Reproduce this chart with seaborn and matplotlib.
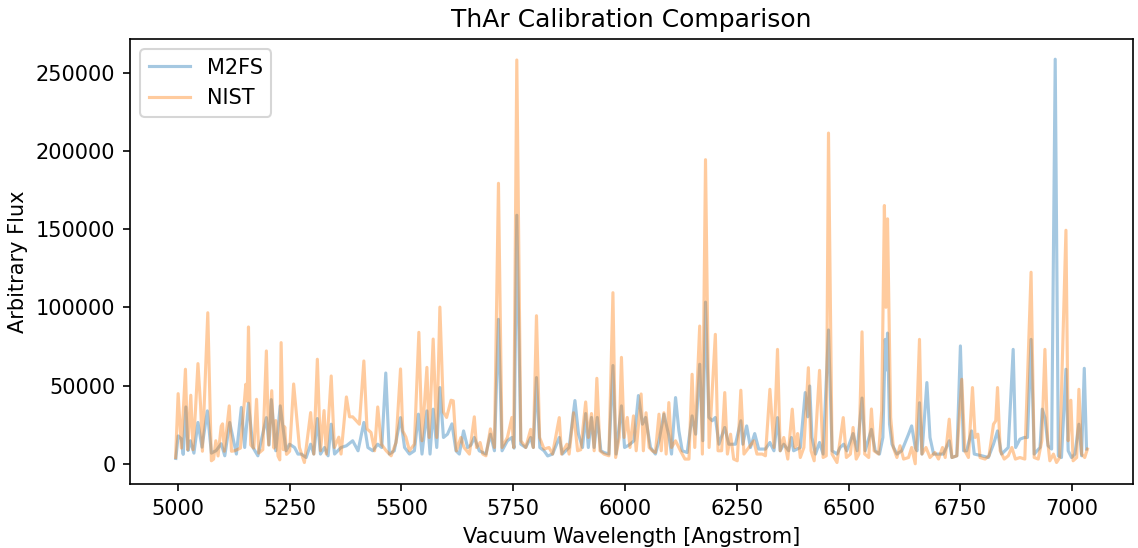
import matplotlib
matplotlib.use("Agg")
import matplotlib.pyplot as plt
import seaborn as sns
import pandas as pd

# ---- data ----
nist_wl = [4995, 5000.7, 5008, 5017, 5022, 5029, 5034, 5039, 5045, 5051, 5055, 5067, 5075, 5080, 5085, 5090,
           5097, 5100, 5104, 5115, 5120, 5127, 5140, 5146, 5152, 5155, 5158, 5163, 5170, 5176, 5181, 5190,
           5198, 5203, 5210, 5215, 5219, 5224, 5228, 5231, 5236, 5239, 5243, 5250, 5259, 5268, 5272, 5283,
           5297, 5304, 5312, 5319, 5327, 5332, 5343, 5350, 5360, 5365, 5377, 5384, 5391, 5399, 5406, 5416,
           5423, 5432, 5440, 5447, 5455, 5466, 5477, 5488, 5498, 5503, 5510, 5518, 5529, 5539, 5546, 5557,
           5562, 5571, 5579, 5586, 5594, 5601, 5611, 5616, 5623, 5633, 5640, 5652, 5663, 5668, 5676, 5682,
           5689, 5699, 5708, 5717, 5725, 5737, 5747, 5751, 5758, 5767, 5778, 5789, 5795, 5802, 5809, 5819,
           5830, 5838, 5853, 5858, 5870, 5875, 5885, 5894, 5901, 5912, 5918, 5925, 5931, 5937, 5944, 5953,
           5964, 5973, 5979, 5987, 5992, 5998, 6005, 6011, 6019, 6025, 6036, 6041, 6047, 6054, 6061, 6068,
           6076, 6081, 6087, 6092, 6098, 6104, 6113, 6124, 6134, 6143, 6150, 6156, 6161, 6167, 6173, 6180,
           6188, 6195, 6202, 6208, 6216, 6223, 6229, 6236, 6243, 6251, 6259, 6266, 6277, 6288, 6295, 6307,
           6314, 6324, 6333, 6341, 6347, 6355, 6364, 6374, 6380, 6383, 6386, 6392, 6400, 6410, 6416, 6423,
           6435, 6443, 6450, 6455, 6463, 6474, 6488, 6495, 6504, 6510, 6517, 6523, 6530, 6536, 6545, 6551,
           6557, 6567, 6574, 6580, 6583.5, 6587, 6594, 6600, 6608, 6615, 6623, 6634, 6641, 6649, 6658.5, 6664,
           6673, 6682, 6693, 6701, 6710, 6716, 6725, 6731, 6742, 6753, 6760, 6768, 6777, 6783, 6789, 6794,
           6805, 6814, 6824, 6829, 6833, 6839, 6848, 6857, 6865, 6873, 6883, 6894, 6908, 6915, 6924, 6932,
           6939, 6945, 6950, 6958, 6965, 6972, 6986, 6991, 6997, 7002, 7010, 7015, 7021, 7028, 7034]
nist_flux = [4000, 44800, 10000, 60400, 9000, 43800, 9000, 31900, 64000, 36700, 8000, 96500, 1900, 3000, 14700, 5000,
             24000, 25500, 8000, 37000, 8000, 8300, 10000, 30000, 50800, 40000, 87400, 12000, 10000, 41200, 6800, 9000,
             72100, 12000, 46700, 10000, 27600, 5000, 2500, 77400, 9000, 23600, 6000, 8000, 51000, 23000, 10400, 800,
             32700, 6200, 66800, 8300, 34000, 6200, 56100, 10400, 17000, 6200, 42700, 30000, 30000, 27500, 25300, 65700,
             22300, 20000, 8300, 36300, 12500, 8300, 5100, 13600, 60600, 21000, 17000, 8300, 12500, 84000, 14700, 61600,
             16800, 79700, 16800, 100100, 33000, 29600, 40600, 40200, 8300, 16800, 10400, 6200, 30000, 10400, 13600, 6200,
             5100, 22300, 10400, 179200, 10400, 16800, 29600, 10400, 258000, 14700, 10400, 22000, 10400, 94600, 16800, 9400,
             10400, 6200, 29500, 6200, 12500, 6200, 32600, 8300, 9000, 39500, 16800, 32100, 8300, 54600, 8300, 6200,
             5100, 109300, 4000, 16800, 68000, 16800, 29600, 10400, 30600, 8300, 44600, 8300, 32600, 10400, 8300, 7200,
             31700, 8300, 32600, 6200, 39100, 10400, 14700, 8300, 3000, 3000, 57200, 10400, 47700, 88000, 6200, 194300,
             10400, 46600, 82700, 8300, 8300, 45500, 6200, 18900, 3000, 1900, 47000, 6200, 10400, 14700, 6200, 6200,
             5100, 47600, 10400, 73100, 8300, 16800, 3000, 34900, 10400, 12500, 19300, 4000, 10400, 61400, 8300, 1900,
             59700, 4000, 5100, 211300, 6200, 800, 29500, 4000, 6200, 23200, 3000, 6200, 84300, 6200, 4000, 35000,
             8300, 6200, 33800, 165000, 100000, 156500, 29600, 10400, 4000, 11500, 3000, 4000, 10400, 0, 79500, 6200,
             10400, 4000, 7200, 3000, 10400, 4000, 28500, 4000, 5100, 54000, 8300, 4000, 48700, 16800, 18900, 4000,
             3000, 5100, 25300, 27400, 48700, 8300, 3000, 5100, 10400, 3000, 4000, 3000, 122400, 4000, 3000, 14700,
             73100, 14700, 1900, 6200, 800, 4000, 149200, 14700, 40600, 1900, 4000, 47600, 6200, 4000, 9400]

m2fs_wl = [4995.5, 5000.7, 5008, 5012, 5018, 5023, 5028, 5036, 5045, 5054, 5066, 5075, 5086, 5097, 5105, 5116,
           5131, 5142, 5149.5, 5158, 5168, 5179, 5198, 5204, 5209, 5219, 5229, 5242, 5250, 5261, 5268.6, 5276,
           5287, 5297, 5304, 5312, 5319, 5328, 5336, 5343, 5350.5, 5365, 5377, 5391, 5403, 5416, 5425, 5436,
           5447, 5456, 5465, 5473, 5484, 5498, 5507, 5518, 5529, 5538, 5546, 5557, 5564, 5571, 5579, 5586,
           5594, 5603, 5613, 5622, 5629.5, 5639, 5648, 5655.5, 5663, 5674, 5689, 5699, 5708, 5717, 5725, 5737,
           5747, 5752, 5758, 5767, 5778, 5789, 5795, 5802, 5809.5, 5819, 5827, 5838, 5853, 5860, 5875, 5888,
           5896, 5905, 5912, 5918, 5925, 5931, 5938, 5946, 5953, 5964, 5973, 5980, 5992, 5999, 6009, 6020,
           6030, 6039, 6046, 6057, 6068, 6076, 6087, 6098, 6104, 6113, 6120.5, 6128, 6139, 6150, 6158, 6167,
           6174, 6180, 6187.5, 6195, 6202, 6210, 6223, 6232, 6247, 6259, 6263.4, 6272, 6280.5, 6290, 6299, 6314,
           6324, 6333, 6341, 6347, 6355, 6366, 6372, 6377, 6392, 6403, 6408.5, 6413, 6418, 6426, 6435, 6443,
           6455, 6463, 6474, 6481, 6489, 6496, 6510, 6519, 6530, 6537, 6551, 6559.5, 6569, 6576.6, 6582, 6584.8,
           6587, 6591.5, 6597, 6608, 6619, 6634, 6641, 6649, 6653, 6658.5, 6664, 6675, 6682, 6690, 6701, 6712,
           6725, 6731, 6742, 6750, 6757, 6764, 6775, 6781, 6798, 6812.5, 6824, 6833, 6842, 6857, 6868, 6873.5,
           6883, 6893, 6900, 6908, 6915, 6928, 6933, 6939, 6946, 6954, 6962, 6969, 6976, 6986, 6991, 6998.5,
           7006, 7015, 7021, 7027, 7032]
m2fs_flux = [3400, 17800, 15900, 6000, 36300, 8500, 14700, 6800, 26400, 10600, 33800, 6800, 8500, 12800, 5100, 26400,
             6200, 36000, 10400, 38700, 10400, 5100, 29500, 12000, 41000, 8300, 37000, 8300, 12500, 10400, 6200, 6200,
             4000, 12500, 6200, 28900, 6200, 10400, 5100, 25300, 6200, 10400, 11500, 14700, 8300, 26400, 10400, 8300,
             12500, 10400, 58000, 6200, 8300, 29500, 10400, 6200, 8300, 31700, 6200, 33800, 6200, 34900, 10400, 48700,
             16800, 18900, 25500, 8300, 6200, 21000, 10400, 12000, 16800, 8300, 6200, 18900, 8300, 92300, 8300, 14700,
             16800, 10000, 158800, 12500, 10400, 16800, 10400, 55100, 10400, 8300, 5000, 6200, 16800, 6200, 10400, 40400,
             18900, 10400, 32100, 10400, 29600, 10400, 29600, 8300, 7200, 6200, 62800, 6200, 37000, 10400, 12000, 14700,
             43600, 25300, 29600, 10400, 6200, 14700, 31700, 18000, 6200, 42300, 21000, 8300, 7200, 30600, 18900, 63600,
             14700, 103300, 29600, 27500, 29600, 12500, 23200, 12500, 12500, 27500, 12500, 24200, 10400, 19300, 9400, 9400,
             13600, 8300, 29500, 8300, 12500, 8300, 16800, 8300, 10400, 45500, 30000, 49700, 16800, 6200, 13600, 6200,
             85500, 8300, 6200, 10400, 12500, 8300, 19300, 8300, 42000, 8300, 22000, 8300, 6200, 16800, 79500, 60000,
             83500, 25300, 12500, 6200, 8300, 18900, 24200, 10400, 8300, 39000, 6200, 51900, 16800, 6200, 6200, 6200,
             14700, 4000, 5100, 75300, 8300, 8300, 21000, 6200, 5100, 4000, 12500, 21000, 6200, 10400, 73100, 10400,
             15700, 16800, 16800, 79500, 6200, 10400, 34900, 29500, 11500, 9400, 258500, 5100, 4000, 60400, 8300, 4000,
             6200, 25300, 5100, 61000, 9400]

series_names = ["M2FS", "NIST"]
title_text = "ThAr Calibration Comparison"
x_label = "Vacuum Wavelength [Angstrom]"
y_label = "Arbitrary Flux"

# ---- build long-form table ----
df = pd.concat([
    pd.DataFrame({"wl": m2fs_wl, "flux": m2fs_flux, "src": series_names[0]}),
    pd.DataFrame({"wl": nist_wl, "flux": nist_flux, "src": series_names[1]}),
], ignore_index=True)

plt.rcParams["font.family"] = ["DejaVu Sans"]
DPI = 150
fig = plt.figure(figsize=(1138 / DPI, 548 / DPI), dpi=DPI)
ax = fig.add_axes([130 / 1138, 1 - 484 / 548, 1003 / 1138, 445 / 548])

sns.lineplot(data=df, x="wl", y="flux", hue="src", hue_order=series_names,
             palette=["#1f77b4", "#ff7f0e"], estimator=None, sort=False,
             linewidth=1.5, alpha=0.4, ax=ax)

ax.set_title(title_text, fontsize=12)
ax.set_xlabel(x_label, fontsize=10)
ax.set_ylabel(y_label, fontsize=10)
ax.tick_params(labelsize=10)
ax.set_xticks([5000, 5250, 5500, 5750, 6000, 6250, 6500, 6750, 7000])
ax.set_yticks([0, 50000, 100000, 150000, 200000, 250000])
ax.set_yticklabels(["0", "50000", "100000", "150000", "200000", "250000"])
leg = ax.legend(loc="upper left", fontsize=10)
for line in leg.get_lines():
    line.set_linewidth(1.5)

fig.savefig("out.png", dpi=DPI)
